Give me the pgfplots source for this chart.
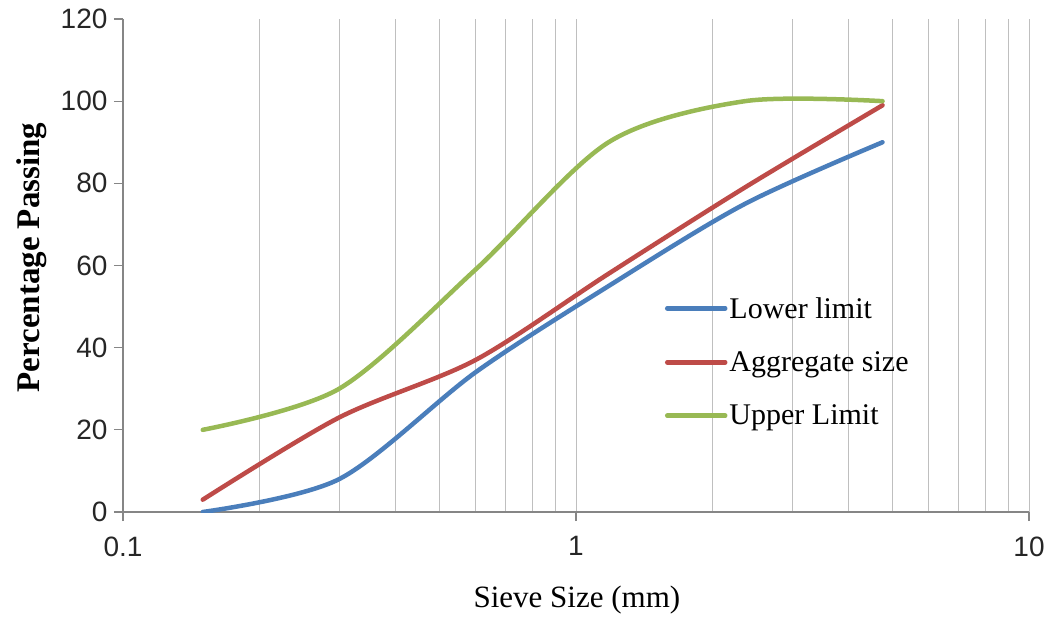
\documentclass[border=0pt]{standalone}
\usepackage{pgfplots}
\pgfplotsset{compat=1.18}
\usepackage{fontspec}
\setmainfont{Liberation Serif}
\newfontfamily\ticksans{Liberation Sans}
\definecolor{cLow}{HTML}{4A7EBB}
\definecolor{cAgg}{HTML}{BE4B48}
\definecolor{cUp}{HTML}{98B954}
\definecolor{axgray}{HTML}{868686}
\definecolor{grgray}{HTML}{BFBFBF}
\begin{document}
\begin{tikzpicture}
\path[use as bounding box] (-123pt,-104pt) rectangle (931pt,512pt);
\begin{axis}[
  at={(0,0)}, anchor=south west,
  scale only axis, width=906pt, height=493pt,
  xmode=log, xmin=0.1, xmax=10, ymin=0, ymax=120,
  xtick={0.1,1,10}, xticklabels={0.1,1,10},
  minor xtick={0.2,0.3,0.4,0.5,0.6,0.7,0.8,0.9,2,3,4,5,6,7,8,9},
  ytick={0,20,40,60,80,100,120}, yticklabels={0,20,40,60,80,100,120},
  xmajorgrids, xminorgrids,
  grid style={draw=grgray, line width=1pt},
  minor grid style={draw=grgray, line width=1pt},
  axis x line=bottom, axis y line=left,
  axis line style={-, draw=axgray, line width=1.3pt},
  tick align=outside, major tick length=9pt, minor tick length=0pt,
  tick style={draw=axgray, line width=1.3pt},
  ticklabel style={font=\ticksans\fontsize{28}{32}\selectfont, text=black!85},
  xticklabel style={yshift=-12pt},
  yticklabel style={xshift=-3pt},
  xlabel={Sieve Size (mm)},
  xlabel style={at={(axis description cs:0.501,-0.178)}, anchor=center, font=\fontsize{31}{36}\selectfont},
  ylabel={Percentage Passing},
  ylabel style={at={(axis description cs:-0.1005,0.516)}, anchor=center, font=\bfseries\fontsize{33}{38}\selectfont},
  legend cell align=left,
  legend style={draw=none, fill=none, at={(axis description cs:0.598,0.44)}, anchor=north west,
    font=\fontsize{30}{36}\selectfont, row sep=28pt, inner sep=0pt},
  legend image code/.code={\draw[#1] (0pt,0pt) -- (58pt,0pt);},
  every axis plot/.append style={line width=4.5pt, line cap=round, smooth},
]
\addplot[cLow] coordinates {(0.15,0) (0.3,8) (0.6,34) (1.18,55) (2.36,75) (4.75,90)};
\addlegendentry{Lower limit}
\addplot[cAgg] coordinates {(0.15,3) (0.3,23) (0.6,37) (1.18,58) (2.36,79) (4.75,99)};
\addlegendentry{Aggregate size}
\addplot[cUp] coordinates {(0.15,20) (0.3,30) (0.6,59) (1.18,90) (2.36,100) (4.75,100)};
\addlegendentry{Upper Limit}
\end{axis}
\end{tikzpicture}
\end{document}
